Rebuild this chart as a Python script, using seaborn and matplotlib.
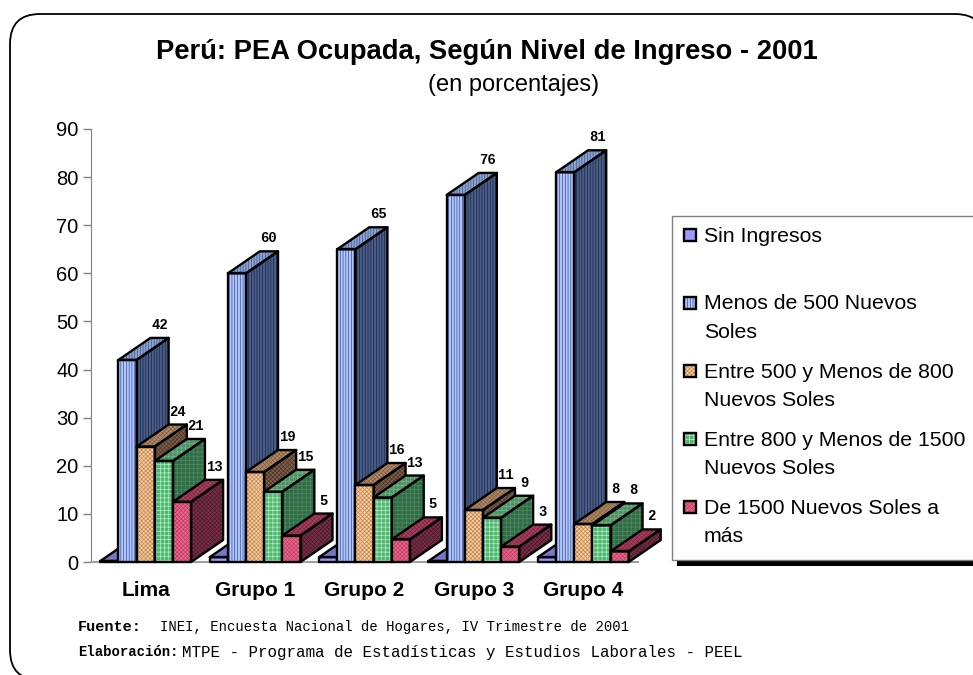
import matplotlib
matplotlib.use('Agg')
import matplotlib.pyplot as plt
import pandas as pd
import seaborn as sns
from matplotlib.patches import FancyBboxPatch, Polygon, Rectangle
from matplotlib.transforms import IdentityTransform

groups = ['Lima', 'Grupo 1', 'Grupo 2', 'Grupo 3', 'Grupo 4']
series = ['Sin Ingresos', 'Menos de 500 Nuevos Soles', 'Entre 500 y Menos de 800 Nuevos Soles',
          'Entre 800 y Menos de 1500 Nuevos Soles', 'De 1500 Nuevos Soles a más']
sin_ingresos = [0.2, 1.0, 1.0, 0.2, 1.0]
menos_500 = [42, 60, 65, 76.3, 81]
entre_500_800 = [24, 18.7, 16, 10.8, 7.9]
entre_800_1500 = [21, 14.6, 13.4, 9.2, 7.6]
de_1500 = [12.5, 5.5, 4.7, 3.2, 2.2]
# labels as printed on the chart, a few are rounded differently from the bar height
label_menos_500 = ['42', '60', '65', '76', '81']
label_500_800 = ['24', '19', '16', '11', '8']
label_800_1500 = ['21', '15', '13', '9', '8']
label_de_1500 = ['13', '5', '5', '3', '2']

W, H = 973, 675
AX_L, AX_R, AX_T, AX_B = 91, 638, 129, 562
DEPTH_PX = (32, 22)
face_cols = ['#9999ff', '#b4caf6', '#f0cfa8', '#4fb870', '#e8688c']
hatch_cols = ['#9999ff', '#2f45b5', '#c98448', '#b8ecc4', '#c23c66']
hatches = ['', '||||||', 'xxxxxxxx', '++++', 'xxxxxxxx']
side_cols = ['#55558f', '#4a5e85', '#7d5f4a', '#2f6b45', '#7a3049']
side_hatch = ['#55558f', '#18234a', '#4e3628', '#4f8a62', '#4d1a2d']
top_cols = ['#7777c8', '#8aa3cc', '#b08b6a', '#4f9164', '#a8405f']
top_hatch = ['#7777c8', '#3f5490', '#846044', '#77b48a', '#7d2743']

plt.rcParams['hatch.linewidth'] = 0.5
plt.rcParams['font.family'] = ['Liberation Sans', 'DejaVu Sans']

values = [sin_ingresos, menos_500, entre_500_800, entre_800_1500, de_1500]
df = pd.DataFrame({
    'grupo': groups * len(series),
    'serie': [s for s in series for _ in groups],
    'pct': [v for vals in values for v in vals],
})

def px(x, y):
    return x / W, 1 - y / H

fig = plt.figure(figsize=(W / 100, H / 100), dpi=100)
ax = fig.add_axes([AX_L / W, 1 - AX_B / H, (AX_R - AX_L) / W, (AX_B - AX_T) / H])
sns.barplot(data=df, x='grupo', y='pct', hue='serie', order=groups, hue_order=series,
            palette=face_cols, saturation=1, width=0.83, gap=0, legend=False, ax=ax)
ax.set_xlim(-0.5, 4.5)
ax.set_ylim(0, 90)
ax.set_yticks(range(0, 91, 10))
ax.set_xlabel('')
ax.set_ylabel('')
ax.patch.set_alpha(0)
ax.tick_params(axis='y', length=6, width=1, color='#808080', labelsize=14.5, pad=3)
ax.tick_params(axis='x', length=0, labelsize=15, pad=14)
for t in ax.get_xticklabels():
    t.set_fontweight('bold')
for s in ['top', 'right']:
    ax.spines[s].set_visible(False)
ax.spines['left'].set_color('#808080')
ax.spines['bottom'].set_color('#a0a0a0')
ax.spines['bottom'].set_linewidth(1.5)

# depth of the fake 3d boxes, in data units
dx = DEPTH_PX[0] * 5 / (AX_R - AX_L)
dy = DEPTH_PX[1] * 90 / (AX_B - AX_T)

texts = [None, label_menos_500, label_500_800, label_800_1500, label_de_1500]
all_bars = []
for i, cont in enumerate(ax.containers):
    for j, bar in enumerate(cont):
        all_bars.append((bar.get_x(), i, j, bar))
all_bars.sort(key=lambda b: b[0])

for n, (x0, i, j, bar) in enumerate(all_bars):
    z = 3 + n * 0.1
    w, h = bar.get_width(), bar.get_height()
    x1 = x0 + w
    bar.set_hatch(hatches[i])
    bar.set_edgecolor(hatch_cols[i])
    bar.set_linewidth(0)
    bar.set_zorder(z)
    side_pts = [(x1, 0), (x1 + dx, dy), (x1 + dx, h + dy), (x1, h)]
    top_pts = [(x0, h), (x0 + dx, h + dy), (x1 + dx, h + dy), (x1, h)]
    ax.add_patch(Polygon(side_pts, facecolor=side_cols[i], hatch=hatches[i], edgecolor=side_hatch[i],
                         linewidth=0, zorder=z, clip_on=False))
    ax.add_patch(Polygon(top_pts, facecolor=top_cols[i], hatch=hatches[i], edgecolor=top_hatch[i],
                         linewidth=0, zorder=z, clip_on=False))
    # black outlines on top of the hatching
    for pts in ([(x0, 0), (x0, h), (x1, h), (x1, 0)], side_pts, top_pts):
        ax.add_patch(Polygon(pts, fill=False, edgecolor='black', linewidth=1.7,
                             joinstyle='round', zorder=z + 0.01, clip_on=False))
    if texts[i] is not None:
        ax.annotate(texts[i][j], xy=(x0 + w / 2 + dx, h + dy), xytext=(0, 13), textcoords='offset pixels',
                    ha='center', va='center', fontsize=10, fontweight='bold',
                    family='Liberation Mono', zorder=50, annotation_clip=False)

# rounded frame around everything
frame = FancyBboxPatch((10, H - 680), 975, 680 - 14, boxstyle='round,pad=0,rounding_size=30',
                       transform=IdentityTransform(), facecolor='white', edgecolor='black',
                       linewidth=1.3, zorder=-10)
fig.add_artist(frame)

# legend box with its black shadow
shadow = Rectangle(px(677, 566), (W - 677) / W, 340 / H, transform=fig.transFigure,
                   facecolor='black', edgecolor='none', zorder=5)
box = Rectangle(px(672, 560), (W - 672 + 3) / W, 344 / H, transform=fig.transFigure,
                facecolor='white', edgecolor='#808080', linewidth=1, zorder=6)
fig.add_artist(shadow)
fig.add_artist(box)
leg_lines = [['Sin Ingresos'], ['Menos de 500 Nuevos', 'Soles'],
             ['Entre 500 y Menos de 800', 'Nuevos Soles'],
             ['Entre 800 y Menos de 1500', 'Nuevos Soles'],
             ['De 1500 Nuevos Soles a', 'más']]
leg_y = [235, 303, 371, 439, 507]
for i, lines in enumerate(leg_lines):
    hx, hy = px(684, leg_y[i] + 6)
    fig.add_artist(Rectangle((hx, hy), 12 / W, 12 / H, transform=fig.transFigure, facecolor=face_cols[i],
                             hatch=hatches[i], edgecolor=hatch_cols[i], linewidth=0, zorder=7))
    fig.add_artist(Rectangle((hx, hy), 12 / W, 12 / H, transform=fig.transFigure, fill=False,
                             edgecolor='black', linewidth=1.7, zorder=8))
    for k, line in enumerate(lines):
        tx, ty = px(704, leg_y[i] + 1 + k * 28)
        fig.text(tx, ty, line, fontsize=15.3, va='center', ha='left', zorder=9)

tx, ty = px(487, 52)
fig.text(tx, ty, 'Perú: PEA Ocupada, Según Nivel de Ingreso - 2001', fontsize=19.7, fontweight='bold',
         ha='center', va='center')
tx, ty = px(514, 85)
fig.text(tx, ty, '(en porcentajes)', fontsize=17, ha='center', va='center')

# source lines
tx, ty = px(78, 627)
fig.text(tx, ty, 'Fuente:', fontsize=11, fontweight='bold', family='Liberation Mono', va='center')
tx, ty = px(160, 627)
fig.text(tx, ty, 'INEI, Encuesta Nacional de Hogares, IV Trimestre de 2001', fontsize=10,
         family='Liberation Mono', va='center')
tx, ty = px(78, 652)
fig.text(tx, ty, 'Elaboración:', fontsize=10, fontweight='bold', family='Liberation Mono', va='center')
tx, ty = px(182, 652)
fig.text(tx, ty, 'MTPE - Programa de Estadísticas y Estudios Laborales - PEEL', fontsize=11.4,
         family='Liberation Mono', va='center')

fig.savefig('out.png', dpi=100)
